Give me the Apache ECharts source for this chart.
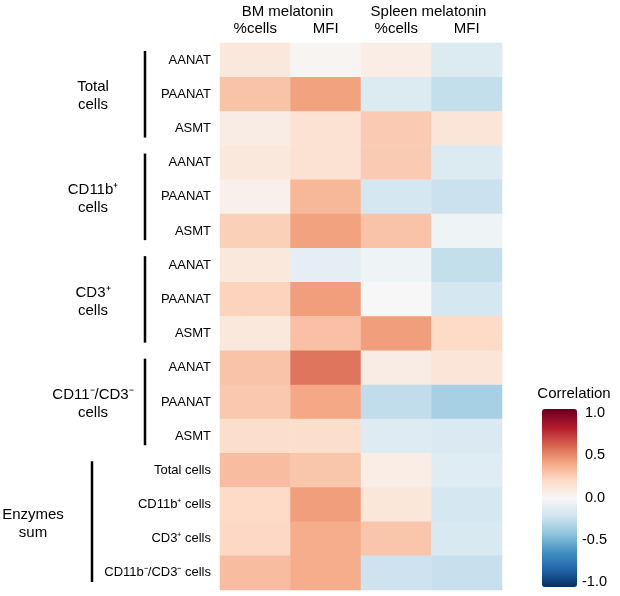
<!DOCTYPE html>
<html><head><meta charset="utf-8">
<script src="https://cdn.jsdelivr.net/npm/echarts@6/dist/echarts.min.js"></script>
<style>html,body{margin:0;padding:0;background:#fff}#c{width:620px;height:596px}</style>
</head><body><div id="c"></div>
<script>
// ---- data ----
const columns = ['%cells', 'MFI', '%cells', 'MFI'];
const columnGroups = ['BM melatonin', 'Spleen melatonin'];
const rowLabels = ['AANAT', 'PAANAT', 'ASMT', 'AANAT', 'PAANAT', 'ASMT', 'AANAT', 'PAANAT', 'ASMT',
  'AANAT', 'PAANAT', 'ASMT', 'Total cells', 'CD11b\u207A cells', 'CD3\u207A cells', 'CD11b\u207B/CD3\u207B cells'];
const groupNames = ['Total\ncells', 'CD11b\u207A\ncells', 'CD3\u207A\ncells', 'CD11\u207B/CD3\u207B\ncells', 'Enzymes\nsum'];
const groupStart = [0, 3, 6, 9, 12];
const groupEnd = [2, 5, 8, 11, 15];
const bmCells = [0.11, 0.29, 0.08, 0.11, 0.05, 0.24, 0.11, 0.23, 0.11, 0.29, 0.27, 0.18, 0.31, 0.20, 0.21, 0.31];
const bmMFI = [0.02, 0.41, 0.15, 0.15, 0.33, 0.41, -0.10, 0.42, 0.30, 0.54, 0.39, 0.18, 0.28, 0.42, 0.37, 0.37];
const spCells = [0.07, -0.14, 0.26, 0.26, -0.18, 0.29, -0.05, 0.00, 0.42, 0.08, -0.25, -0.13, 0.07, 0.12, 0.28, -0.21];
const spMFI = [-0.14, -0.24, 0.13, -0.14, -0.22, -0.05, -0.24, -0.18, 0.20, 0.13, -0.33, -0.15, -0.12, -0.18, -0.16, -0.23];
const legendTicks = [1.0, 0.5, 0.0, -0.5, -1.0];
const legendTitle = 'Correlation';

// ---- build ----
const seriesCols = [bmCells, bmMFI, spCells, spMFI];
const cells = [];
seriesCols.forEach((col, ci) => col.forEach((v, ri) => cells.push([ci, ri, v])));
const FONT = '"Liberation Sans", Arial, Helvetica, sans-serif';
const RdBu = ['#053061', '#2166ac', '#4393c3', '#92c5de', '#d1e5f0', '#f7f7f7',
  '#fddbc7', '#f4a582', '#d6604d', '#b2182b', '#67001f'];

const chart = echarts.init(document.getElementById('c'), null, { renderer: 'canvas' });
const barTop = 409, barH = 178, barLeft = 542, barW = 35;
chart.setOption({
  backgroundColor: '#fff',
  animation: false,
  grid: { left: 220, right: 118, top: 43, bottom: 6 },
  xAxis: {
    type: 'category', position: 'top', data: columns,
    axisLine: { show: false }, axisTick: { show: false }, splitLine: { show: false },
    axisLabel: { color: '#000', fontSize: 15, fontFamily: FONT, margin: 7 }
  },
  yAxis: {
    type: 'category', inverse: true, data: rowLabels,
    axisLine: { show: false }, axisTick: { show: false }, splitLine: { show: false },
    axisLabel: { color: '#000', fontSize: 13, fontFamily: FONT, margin: 9 }
  },
  visualMap: {
    type: 'continuous', min: -1, max: 1, calculable: false, show: true,
    orient: 'vertical', left: barLeft, top: barTop, itemWidth: barW, itemHeight: barH,
    padding: 0, text: null, showLabel: false, hoverLink: false,
    inRange: { color: RdBu }
  },
  series: [{
    type: 'heatmap', data: cells,
    itemStyle: { borderWidth: 0 },
    emphasis: { disabled: true }
  }]
});

// ---- annotations computed from axes ----
const p00 = chart.convertToPixel({ gridIndex: 0 }, [0, 0]);
const p01 = chart.convertToPixel({ gridIndex: 0 }, [0, 1]);
const rowH = p01[1] - p00[1];
const rowCenter = r => chart.convertToPixel({ gridIndex: 0 }, [0, r])[1];
const colCenter = c => chart.convertToPixel({ gridIndex: 0 }, [c, 0])[0];
const graphics = [];
const inset = 8;
groupNames.forEach((name, g) => {
  const y0 = rowCenter(groupStart[g]) - rowH / 2;
  const y1 = rowCenter(groupEnd[g]) + rowH / 2;
  const isSum = g === groupNames.length - 1;
  const lx = isSum ? 92 : 145;
  const tx = isSum ? 33 : 93;
  graphics.push({ type: 'line', shape: { x1: lx, y1: y0 + inset, x2: lx, y2: y1 - inset },
    style: { stroke: '#000', lineWidth: 2.5 }, silent: true });
  graphics.push({ type: 'text', x: tx, y: (y0 + y1) / 2 + 2,
    style: { text: name, fill: '#000', font: '15px ' + FONT, textAlign: 'center', textVerticalAlign: 'middle', lineHeight: 18 },
    silent: true });
});
columnGroups.forEach((name, i) => {
  const cx = (colCenter(2 * i) + colCenter(2 * i + 1)) / 2;
  graphics.push({ type: 'text', x: cx - 3, y: 12,
    style: { text: name, fill: '#000', font: '15px ' + FONT, textAlign: 'center', textVerticalAlign: 'middle' }, silent: true });
});
// legend title and ticks
graphics.push({ type: 'text', x: 574, y: 394,
  style: { text: legendTitle, fill: '#000', font: '15px ' + FONT, textAlign: 'center', textVerticalAlign: 'middle' }, silent: true });
const tickTop = barTop + 4, tickBot = barTop + barH - 5;
legendTicks.forEach(v => {
  const y = tickTop + (1 - (v + 1) / 2) * (tickBot - tickTop);
  graphics.push({ type: 'text', x: v < 0 ? 582 : 585, y: y,
    style: { text: v.toFixed(1), fill: '#000', font: '14.5px ' + FONT, textAlign: 'left', textVerticalAlign: 'middle' }, silent: true });
  graphics.push({ type: 'line', shape: { x1: barLeft + 2, y1: y, x2: barLeft + 7, y2: y }, style: { stroke: 'rgba(255,255,255,0.7)', lineWidth: 1.5 }, silent: true });
  graphics.push({ type: 'line', shape: { x1: barLeft + barW - 7, y1: y, x2: barLeft + barW - 2, y2: y }, style: { stroke: 'rgba(255,255,255,0.7)', lineWidth: 1.5 }, silent: true });
});
chart.setOption({ graphic: graphics });
</script>
</body></html>
